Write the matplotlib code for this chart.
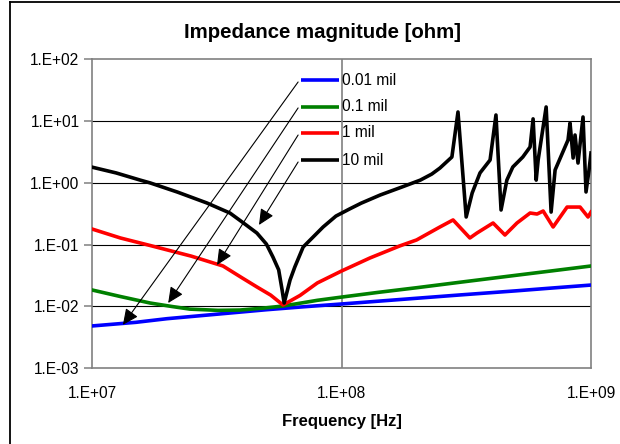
import matplotlib.pyplot as plt
from matplotlib.lines import Line2D

plt.rcParams['font.family'] = ['Liberation Sans', 'DejaVu Sans']

# --- DADES (llegides del gràfic) ---
freq_001 = [1e7, 1.5e7, 2e7, 3e7, 5e7, 7e7, 1e8, 2e8, 3e8, 5e8, 7e8, 1e9]
z_001 = [0.0048, 0.0055, 0.0063, 0.0073, 0.0088, 0.0098, 0.0109, 0.0135,
         0.0153, 0.0178, 0.0198, 0.0221]

freq_01 = [1e7, 1.3e7, 1.71e7, 2.1e7, 2.47e7, 3.2e7, 3.92e7, 4.8e7, 5.83e7,
           8e7, 1e8, 1.4e8, 2e8, 3e8, 5e8, 7e8, 1e9]
z_01 = [0.0184, 0.0144, 0.0113, 0.0099, 0.0090, 0.0086, 0.0087, 0.0093,
        0.0101, 0.0125, 0.0141, 0.0168, 0.020, 0.0246, 0.0318, 0.0376, 0.045]

freq_1 = [1.0e7, 1.3e7, 1.71e7, 2.5e7, 3.35e7, 4.0e7, 4.58e7, 5.2e7, 5.83e7,
          6.82e7, 8.0e7, 1.0e8, 1.3e8, 1.71e8, 2.0e8, 2.48e8, 2.80e8, 3.27e8,
          3.49e8, 4.05e8, 4.52e8, 5.05e8, 5.70e8, 6.08e8, 6.43e8, 7.05e8,
          8.02e8, 9.04e8, 9.73e8, 1.0e9]
z_1 = [0.179, 0.128, 0.0967, 0.065, 0.045, 0.0288, 0.0206, 0.0152, 0.0105,
       0.015, 0.0239, 0.0373, 0.0607, 0.095, 0.119, 0.193, 0.251, 0.128,
       0.154, 0.224, 0.143, 0.224, 0.325, 0.313, 0.350, 0.193,
       0.406, 0.406, 0.28, 0.337]

freq_10 = [1.0e7, 1.25e7, 1.56e7, 1.71e7, 2.2e7, 2.89e7, 3.57e7, 4.0e7,
           4.58e7, 5.0e7, 5.31e7, 5.6e7, 5.78e7, 5.89e7, 6.22e7, 6.5e7,
           7.02e7, 8.44e7, 9.5e7, 1.08e8, 1.2e8, 1.43e8, 1.75e8, 2.07e8,
           2.3e8, 2.48e8, 2.77e8, 2.93e8, 3.16e8, 3.34e8, 3.59e8, 3.94e8,
           4.16e8, 4.36e8, 4.60e8, 4.86e8, 5.33e8, 5.70e8, 5.86e8, 6.03e8,
           6.14e8, 6.61e8, 6.92e8, 7.18e8, 8.09e8, 8.24e8, 8.48e8, 8.63e8,
           8.87e8, 9.29e8, 9.55e8, 9.82e8, 1.0e9]
z_10 = [1.80, 1.45, 1.11, 1.00, 0.71, 0.472, 0.325, 0.232,
        0.154, 0.102, 0.063, 0.039, 0.0184, 0.0113, 0.0267, 0.0434,
        0.0914, 0.193, 0.29, 0.38, 0.47, 0.637, 0.86, 1.11,
        1.39, 1.74, 2.63, 14.1, 0.28, 0.686, 1.45, 2.35,
        12.6, 0.364, 1.11, 1.81, 2.63, 3.82, 10.9, 1.11,
        2.35, 17.0, 0.337, 1.62, 4.96, 9.35, 2.53, 5.97,
        2.10, 11.7, 0.713, 1.62, 3.05]

labels = ['0.01 mil', '0.1 mil', '1 mil', '10 mil']
colors = ['#0000FF', '#008000', '#FF0000', '#000000']

xtick_vals = [1e7, 1e8, 1e9]
xtick_labels = ['1.E+07', '1.E+08', '1.E+09']
ytick_vals = [1e-3, 1e-2, 1e-1, 1e0, 1e1, 1e2]
ytick_labels = ['1.E-03', '1.E-02', '1.E-01', '1.E+00', '1.E+01', '1.E+02']

# --- posicions de la llegenda i fletxes (coordenades de dades) ---
leg_x = [6.88e7, 9.78e7]
leg_text_x = 1.0e8
leg_y = [46.5, 17.0, 6.44, 2.35]
arrow_start_x = 6.7e7
arrow_start_y = [43.2, 16.4, 5.97, 2.18]
arrow_tips = [(1.33e7, 0.0050), (2.02e7, 0.0113), (3.17e7, 0.0467), (4.67e7, 0.208)]

# --- FIGURA ---
fig = plt.figure(figsize=(6.2, 4.44), dpi=100)
ax = fig.add_axes([92 / 620, 76 / 444, 499 / 620, 308.5 / 444])

series = [(freq_001, z_001), (freq_01, z_01), (freq_1, z_1), (freq_10, z_10)]
for (f, z), c in zip(series, colors):
    ax.plot(f, z, color=c, lw=2.6, solid_joinstyle='round', zorder=3)

ax.set_xscale('log')
ax.set_yscale('log')
ax.set_xlim(1e7, 1e9)
ax.set_ylim(1e-3, 1e2)
ax.set_xticks(xtick_vals, xtick_labels)
ax.set_yticks(ytick_vals, ytick_labels)
ax.minorticks_off()
ax.tick_params(axis='x', length=0, pad=13, labelsize=11.2)
ax.tick_params(axis='y', length=6, width=1.1, color='#808080', pad=3, labelsize=11.2)

for y in ytick_vals[1:-1]:
    ax.axhline(y, color='black', lw=0.8, zorder=1)
ax.axvline(1e8, color='#808080', lw=1.2, zorder=1)
for s in ax.spines.values():
    s.set_color('#808080')
    s.set_linewidth(1.2)

# llegenda manual amb fletxes
for i in range(4):
    ax.plot(leg_x, [leg_y[i], leg_y[i]], color=colors[i], lw=2.6,
            solid_capstyle='butt', clip_on=False, zorder=4)
    ax.text(leg_text_x, leg_y[i], labels[i], fontsize=11.2, va='center', ha='left')
    ax.annotate('', xy=arrow_tips[i], xytext=(arrow_start_x, arrow_start_y[i]),
                arrowprops=dict(arrowstyle='-|>,head_length=0.6,head_width=0.28',
                                color='black', lw=0.8, mutation_scale=16,
                                shrinkA=0, shrinkB=0), zorder=5)

fig.text(322 / 620, 1 - 32 / 444, 'Impedance magnitude [ohm]', fontsize=14.7,
         fontweight='bold', ha='center', va='center')
fig.text(341.7 / 620, 1 - 421 / 444, 'Frequency [Hz]', fontsize=12,
         fontweight='bold', ha='center', va='center')

# marc del gràfic
fig.add_artist(Line2D([10 / 620, 10 / 620], [0, 1 - 2 / 444], color='black', lw=1.3))
fig.add_artist(Line2D([10 / 620, 1], [1 - 2 / 444, 1 - 2 / 444], color='black', lw=1.3))

fig.savefig('out.png', dpi=100)
